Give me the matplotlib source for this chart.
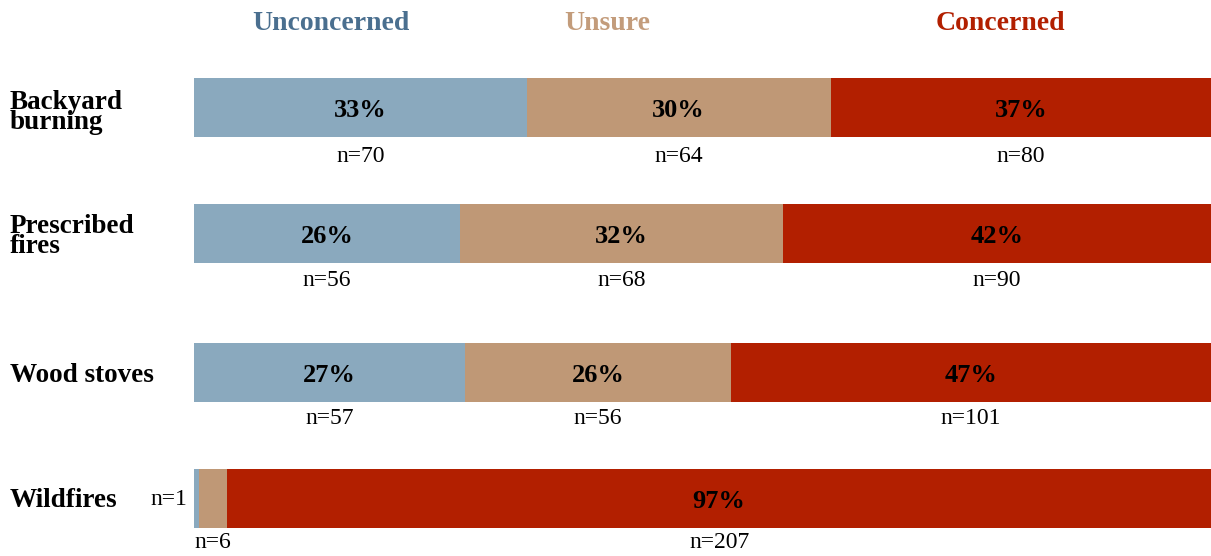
import matplotlib.pyplot as plt
import numpy as np

# survey counts per source of smoke
sources = ["Backyard\nburning", "Prescribed\nfires", "Wood stoves", "Wildfires"]
responses = ["Unconcerned", "Unsure", "Concerned"]
unconcerned_n = [70, 56, 57, 1]
unsure_n = [64, 68, 56, 6]
concerned_n = [80, 90, 101, 207]

bar_colors = ["#8AA9BE", "#BF9876", "#B21F00"]
head_colors = ["#4A6F8F", "#C39C7B", "#B21F00"]

counts = np.array([unconcerned_n, unsure_n, concerned_n], dtype=float).T
pct = counts / counts.sum(axis=1, keepdims=True) * 100

W, H = 1211, 556
fig = plt.figure(figsize=(W / 100, H / 100), dpi=100)
plt.rcParams['font.family'] = ['Liberation Serif', 'DejaVu Serif']

x0 = 194 / W
ax = fig.add_axes([x0, 0, 1 - x0, 1])
ax.set_xlim(0, 100)
ax.set_ylim(H, 0)
ax.axis("off")

# row centres (pixels from top), bar thickness, gap to the n= line
rows = [107.5, 233.5, 372.5, 498.5]
n_gap = [20, 18, 16, 15]
bar_h = 59

for i, y in enumerate(rows):
    left = 0
    for j in range(3):
        w = pct[i, j]
        ax.barh(y, w, left=left, height=bar_h, color=bar_colors[j], linewidth=0)
        cx = left + w / 2
        n_txt = "n=%d" % counts[i, j]
        if w >= 10:
            ax.text(cx, y + 3, "%d%%" % round(w), ha="center", va="center",
                    fontsize=19, fontweight="bold", color="black")
        if i == 3 and j == 0:
            ax.text(left - 0.7, y + 1, n_txt, ha="right", va="center",
                    fontsize=17, clip_on=False)
        else:
            ax.text(cx, y + bar_h / 2 + n_gap[i], n_txt, ha="center",
                    va="center", fontsize=17, clip_on=False)
        left += w

# category labels on the left
label_dy = [5, 3, 3, 2]
for lab, y, dy in zip(sources, rows, label_dy):
    fig.text(10 / W, 1 - (y + dy) / H, lab, ha="left", va="center",
             fontsize=19.5, fontweight="bold", linespacing=0.78)

# column headings
for name, col, hx in zip(responses, head_colors, [331, 607, 1000]):
    fig.text(hx / W, 1 - 24 / H, name, ha="center", va="center",
             fontsize=20, fontweight="bold", color=col)

fig.savefig("out.png", dpi=100)
